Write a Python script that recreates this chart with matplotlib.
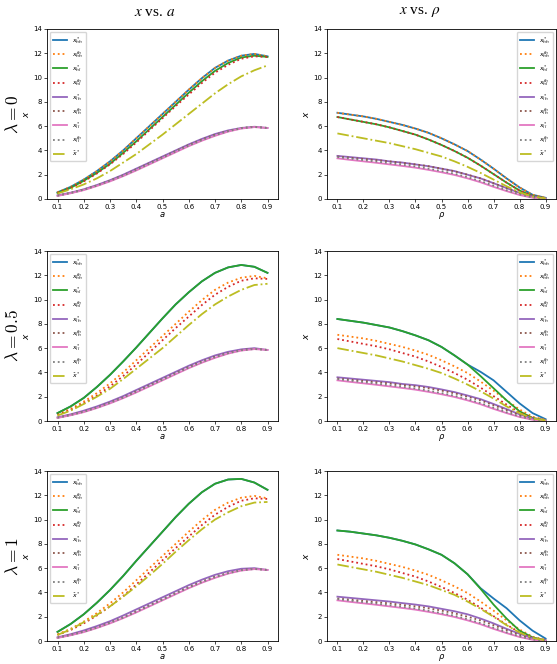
import numpy as np
import matplotlib
matplotlib.use("Agg")
import matplotlib.pyplot as plt

# grid shared by every panel
grid = np.round(np.arange(0.10, 0.901, 0.05), 2)

# ---------------- x vs. a ----------------
a_hh_0 = [0.55, 1.0, 1.6, 2.3, 3.1, 4.0, 5.0, 6.0, 7.0, 8.0, 9.0, 9.95, 10.8, 11.4, 11.8, 11.95, 11.75]
a_hl_0 = [0.5, 0.92, 1.5, 2.15, 2.9, 3.8, 4.75, 5.75, 6.75, 7.75, 8.75, 9.7, 10.55, 11.2, 11.65, 11.8, 11.7]
a_hat_0 = [0.45, 0.8, 1.2, 1.7, 2.3, 3.0, 3.7, 4.5, 5.3, 6.15, 7.0, 7.85, 8.7, 9.45, 10.1, 10.6, 11.0]
a_lh_0 = [0.3, 0.52, 0.8, 1.15, 1.55, 2.0, 2.5, 3.0, 3.5, 4.0, 4.5, 4.95, 5.35, 5.65, 5.85, 5.95, 5.85]
a_ll_0 = [0.25, 0.47, 0.73, 1.07, 1.45, 1.88, 2.35, 2.85, 3.35, 3.85, 4.35, 4.8, 5.2, 5.55, 5.8, 5.92, 5.85]

a_hh_th = a_hh_0
a_hl_th = [0.5, 0.9, 1.45, 2.1, 2.85, 3.7, 4.65, 5.65, 6.65, 7.65, 8.6, 9.55, 10.4, 11.05, 11.55, 11.75, 11.7]
a_lh_th = [0.28, 0.5, 0.78, 1.12, 1.52, 1.95, 2.45, 2.95, 3.45, 3.95, 4.45, 4.9, 5.3, 5.6, 5.85, 5.95, 5.85]
a_ll_th = [0.27, 0.49, 0.76, 1.1, 1.49, 1.92, 2.4, 2.9, 3.4, 3.9, 4.4, 4.85, 5.25, 5.58, 5.82, 5.93, 5.85]

a_hl_05 = [0.65, 1.2, 1.9, 2.8, 3.8, 4.9, 6.05, 7.25, 8.45, 9.6, 10.6, 11.5, 12.2, 12.65, 12.85, 12.7, 12.2]
a_hat_05 = [0.45, 0.85, 1.4, 2.0, 2.65, 3.45, 4.3, 5.15, 6.0, 6.95, 7.9, 8.8, 9.6, 10.25, 10.8, 11.2, 11.3]
a_lh_05 = [0.3, 0.55, 0.85, 1.2, 1.6, 2.05, 2.55, 3.05, 3.55, 4.05, 4.55, 5.0, 5.4, 5.7, 5.9, 6.0, 5.85]

a_hl_1 = [0.75, 1.4, 2.2, 3.15, 4.2, 5.35, 6.6, 7.8, 9.0, 10.2, 11.3, 12.25, 12.95, 13.3, 13.35, 13.05, 12.45]
a_hat_1 = [0.5, 0.95, 1.55, 2.15, 2.85, 3.65, 4.5, 5.4, 6.35, 7.35, 8.3, 9.2, 10.0, 10.6, 11.1, 11.4, 11.45]
a_lh_1 = [0.3, 0.56, 0.87, 1.23, 1.63, 2.1, 2.6, 3.1, 3.6, 4.1, 4.6, 5.05, 5.45, 5.75, 5.95, 6.0, 5.85]

# ---------------- x vs. rho ----------------
r_hh_0 = [7.1, 6.95, 6.8, 6.6, 6.35, 6.1, 5.8, 5.45, 5.0, 4.5, 3.95, 3.25, 2.5, 1.7, 0.95, 0.35, 0.1]
r_hl_0 = [6.75, 6.55, 6.35, 6.15, 5.9, 5.6, 5.3, 4.9, 4.45, 3.95, 3.4, 2.75, 2.05, 1.35, 0.7, 0.25, 0.05]
r_hat_0 = [5.4, 5.2, 5.0, 4.8, 4.6, 4.35, 4.1, 3.8, 3.5, 3.1, 2.65, 2.15, 1.6, 1.05, 0.55, 0.2, 0.05]
r_lh_0 = [3.55, 3.45, 3.35, 3.25, 3.1, 3.0, 2.85, 2.7, 2.5, 2.3, 2.0, 1.7, 1.3, 0.9, 0.5, 0.2, 0.05]
r_ll_0 = [3.35, 3.22, 3.1, 2.98, 2.85, 2.72, 2.58, 2.4, 2.2, 1.98, 1.7, 1.38, 1.0, 0.65, 0.33, 0.1, 0.02]

r_hh_th = r_hh_0
r_hl_th = r_hl_0
r_lh_th = [3.5, 3.4, 3.3, 3.2, 3.1, 2.97, 2.85, 2.7, 2.5, 2.28, 2.0, 1.7, 1.3, 0.9, 0.5, 0.18, 0.05]
r_ll_th = [3.45, 3.32, 3.2, 3.08, 2.95, 2.82, 2.68, 2.5, 2.3, 2.08, 1.8, 1.48, 1.1, 0.72, 0.38, 0.12, 0.03]

r_hl_05 = [8.4, 8.25, 8.1, 7.9, 7.7, 7.4, 7.05, 6.65, 6.1, 5.4, 4.65, 3.7, 2.7, 1.7, 0.8, 0.25, 0.05]
r_hh_05 = [8.4, 8.25, 8.1, 7.9, 7.7, 7.4, 7.05, 6.65, 6.1, 5.4, 4.65, 4.05, 3.35, 2.4, 1.45, 0.65, 0.15]
r_hat_05 = [6.0, 5.8, 5.6, 5.4, 5.15, 4.9, 4.6, 4.3, 3.95, 3.5, 3.0, 2.45, 1.85, 1.2, 0.65, 0.2, 0.05]
r_lh_05 = [3.6, 3.5, 3.4, 3.3, 3.2, 3.05, 2.95, 2.8, 2.6, 2.38, 2.1, 1.8, 1.4, 0.98, 0.55, 0.2, 0.05]

r_hl_1 = [9.1, 9.0, 8.85, 8.7, 8.5, 8.25, 7.95, 7.55, 7.1, 6.4, 5.5, 4.3, 3.0, 1.85, 0.85, 0.3, 0.05]
r_hh_1 = [9.1, 9.0, 8.85, 8.7, 8.5, 8.25, 7.95, 7.55, 7.1, 6.4, 5.5, 4.35, 3.5, 2.7, 1.7, 0.85, 0.2]
r_hat_1 = [6.3, 6.1, 5.9, 5.7, 5.45, 5.2, 4.9, 4.6, 4.2, 3.8, 3.25, 2.65, 2.0, 1.3, 0.7, 0.25, 0.05]
r_lh_1 = [3.65, 3.55, 3.45, 3.35, 3.25, 3.12, 3.0, 2.85, 2.65, 2.45, 2.2, 1.85, 1.45, 1.0, 0.6, 0.22, 0.05]

labels = [r"$x^*_{hh}$", r"$x^{th}_{hh}$", r"$x^*_{hl}$", r"$x^{th}_{hl}$",
          r"$x^*_{lh}$", r"$x^{th}_{lh}$", r"$x^*_{ll}$", r"$x^{th}_{ll}$", r"$\hat{x}^*$"]
styles = ["-", ":", "-", ":", "-", ":", "-", ":", "-."]

# order per panel: hh*, hh th, hl*, hl th, lh*, lh th, ll*, ll th, hat
panels = [
    [[a_hh_0, a_hh_th, a_hl_0, a_hl_th, a_lh_0, a_lh_th, a_ll_0, a_ll_th, a_hat_0],
     [r_hh_0, r_hh_th, r_hl_0, r_hl_th, r_lh_0, r_lh_th, r_ll_0, r_ll_th, r_hat_0]],
    [[a_hl_05, a_hh_th, a_hl_05, a_hl_th, a_lh_05, a_lh_th, a_ll_0, a_ll_th, a_hat_05],
     [r_hh_05, r_hh_th, r_hl_05, r_hl_th, r_lh_05, r_lh_th, r_ll_0, r_ll_th, r_hat_05]],
    [[a_hl_1, a_hh_th, a_hl_1, a_hl_th, a_lh_1, a_lh_th, a_ll_0, a_ll_th, a_hat_1],
     [r_hh_1, r_hh_th, r_hl_1, r_hl_th, r_lh_1, r_lh_th, r_ll_0, r_ll_th, r_hat_1]],
]

row_labels = [r"$\lambda = 0$", r"$\lambda = 0.5$", r"$\lambda = 1$"]
col_titles = [r"$x$ vs. $a$", r"$x$ vs. $\rho$"]
xlabels = [r"$a$", r"$\rho$"]

fig = plt.figure(figsize=(5.57, 6.64), dpi=100)
W, H = 557, 664
col_px = [(47, 278), (327, 556)]
row_px = [(29, 199), (251, 421), (471, 641)]

for r in range(3):
    for c in range(2):
        x0, x1 = col_px[c]
        y0, y1 = row_px[r]
        ax = fig.add_axes([x0 / W, 1 - y1 / H, (x1 - x0) / W, (y1 - y0) / H])
        for k, ys in enumerate(panels[r][c]):
            ax.plot(grid, ys, linestyle=styles[k], color=f"C{k}", lw=1.3, label=labels[k])
        ax.set_ylim(0, 14)
        ax.set_xticks([0.1, 0.2, 0.3, 0.4, 0.5, 0.6, 0.7, 0.8, 0.9])
        ax.tick_params(labelsize=5, length=2, width=0.5, pad=1.5)
        ax.set_xlabel(xlabels[c], fontsize=6)
        ax.set_ylabel(r"$x$", fontsize=6.5)
        ax.xaxis.set_label_coords(0.5, -11 / (y1 - y0))
        ax.yaxis.set_label_coords(-16 / (x1 - x0), 0.5)
        for s in ax.spines.values():
            s.set_linewidth(0.6)
        ax.legend(loc="upper left" if c == 0 else "upper right", fontsize=4.5,
                  handlelength=2.3, labelspacing=0.55, borderpad=0.45, framealpha=0.8)

fig.text(155 / W, 1 - 12 / H, col_titles[0], ha="center", va="center", fontsize=11,
         family="Liberation Serif", math_fontfamily="stix")
fig.text(420 / W, 1 - 12 / H, col_titles[1], ha="center", va="center", fontsize=11,
         family="Liberation Serif", math_fontfamily="stix")
for r in range(3):
    yc = (row_px[r][0] + row_px[r][1]) / 2
    fig.text(13 / W, 1 - yc / H, row_labels[r], rotation=90, ha="center", va="center",
             fontsize=12.5, math_fontfamily="cm")

fig.savefig("out.png", dpi=100)
